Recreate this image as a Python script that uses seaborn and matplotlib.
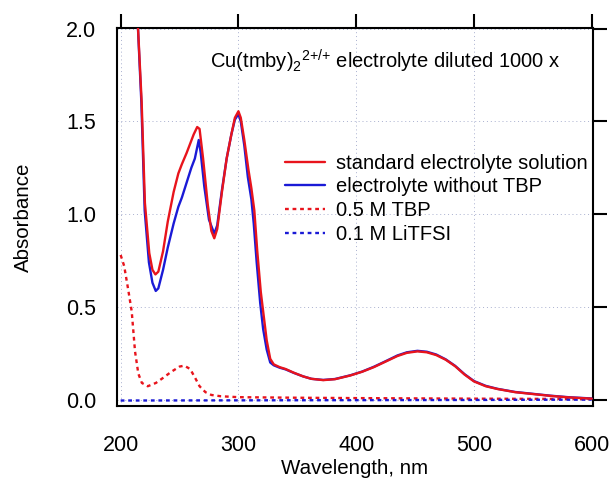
import numpy as np
import pandas as pd
import matplotlib
matplotlib.use("Agg")
import matplotlib.pyplot as plt
import seaborn as sns

# ---- data ----
std_nm = [214, 217.8, 220.6, 224.3, 227, 229.5, 232, 236, 240, 245, 249, 252, 256, 259, 262, 265,
          267, 270, 274, 277, 279.5, 282, 286, 290, 294, 297, 300, 302, 305, 308.5, 311, 313.5,
          316, 319, 321.5, 324, 327, 330, 335, 340, 347, 355, 362, 372, 382, 395, 405, 415, 425,
          435, 443, 452, 460, 468, 476, 484, 492, 500, 510, 520, 535, 550, 565, 580, 600]
std_abs = [2.1, 1.61, 1.06, 0.79, 0.70, 0.675, 0.69, 0.80, 0.96, 1.12, 1.22, 1.27, 1.33, 1.38, 1.43, 1.47,
           1.46, 1.30, 1.05, 0.91, 0.87, 0.92, 1.12, 1.30, 1.43, 1.52, 1.555, 1.52, 1.40, 1.24, 1.14, 1.02,
           0.80, 0.58, 0.45, 0.32, 0.22, 0.19, 0.175, 0.165, 0.145, 0.125, 0.112, 0.105, 0.11, 0.13, 0.15,
           0.175, 0.205, 0.235, 0.252, 0.26, 0.255, 0.24, 0.215, 0.18, 0.135, 0.098, 0.072, 0.057, 0.04,
           0.03, 0.02, 0.012, 0.005]

notbp_nm = [214, 217.6, 220.4, 224, 227, 229.8, 232, 236, 240, 245, 249, 252, 256, 260, 263, 266.3,
            268, 271, 275, 279.5, 282, 286, 290, 294, 297, 300, 302, 305, 308, 311, 313, 315.5,
            318.5, 321, 324, 327, 330, 335, 340, 347, 355, 362, 372, 382, 395, 405, 415, 425,
            435, 443, 452, 460, 468, 476, 484, 492, 500, 510, 520, 535, 550, 565, 580, 600]
notbp_abs = [2.1, 1.6, 1.02, 0.74, 0.63, 0.586, 0.60, 0.70, 0.82, 0.95, 1.04, 1.09, 1.17, 1.25, 1.30, 1.40,
             1.33, 1.15, 0.97, 0.895, 0.94, 1.13, 1.30, 1.43, 1.51, 1.54, 1.50, 1.37, 1.20, 1.08, 0.95, 0.74,
             0.52, 0.38, 0.27, 0.20, 0.185, 0.172, 0.163, 0.144, 0.125, 0.112, 0.106, 0.111, 0.131, 0.151,
             0.177, 0.207, 0.238, 0.255, 0.263, 0.258, 0.243, 0.217, 0.182, 0.137, 0.10, 0.074, 0.058,
             0.041, 0.031, 0.021, 0.013, 0.006]

tbp_nm = [200, 203, 206.5, 209.4, 212.2, 215, 218, 223, 230, 236, 243, 250, 254, 259, 263, 267,
          272, 277, 285, 300, 350, 400, 500, 600]
tbp_abs = [0.78, 0.72, 0.59, 0.475, 0.26, 0.14, 0.09, 0.072, 0.09, 0.117, 0.15, 0.178, 0.183, 0.165,
           0.12, 0.072, 0.04, 0.025, 0.018, 0.013, 0.01, 0.008, 0.005, 0.003]

litfsi_nm = [200, 300, 400, 500, 600]
litfsi_abs = [-0.005, -0.004, -0.003, -0.002, 0.0]

labels = ["standard electrolyte solution", "electrolyte without TBP", "0.5 M TBP", "0.1 M LiTFSI"]
x_ticks = [200, 300, 400, 500, 600]
y_ticks = [0.0, 0.5, 1.0, 1.5, 2.0]

RED = "#e8141c"
BLUE = "#1a1ad6"

sns.set_theme(style="white")
plt.rcParams['font.family'] = ['Liberation Sans', 'DejaVu Sans']
plt.rcParams['mathtext.fontset'] = 'custom'
plt.rcParams['mathtext.rm'] = 'Liberation Sans'
plt.rcParams['mathtext.it'] = 'Liberation Sans'
plt.rcParams['mathtext.default'] = 'regular'
plt.rcParams['text.color'] = 'black'
plt.rcParams['axes.labelcolor'] = 'black'

fig = plt.figure(figsize=(6.1, 4.8), dpi=100)
ax = fig.add_axes([0.192, 0.154, 0.780, 0.788])

dot = (0, (1.6, 1.6))
series = [
    (std_nm, std_abs, labels[0], RED, '-', 5),
    (notbp_nm, notbp_abs, labels[1], BLUE, '-', 4),
    (tbp_nm, tbp_abs, labels[2], RED, dot, 3),
    (litfsi_nm, litfsi_abs, labels[3], BLUE, dot, 3),
]
for xs, ys, lab, col, ls, z in series:
    df = pd.DataFrame({"nm": xs, "abs": ys})
    sns.lineplot(data=df, x="nm", y="abs", ax=ax, color=col, linewidth=1.7,
                 linestyle=ls, label=lab, sort=False, zorder=z)

ax.set_xlim(197, 601)
ax.set_ylim(-0.035, 2.005)
ax.set_xticks(x_ticks)
ax.set_yticks(y_ticks)
ax.set_yticklabels([f"{v:.1f}" for v in y_ticks])
ax.grid(True, color="#a9b0cf", linestyle=(0, (1, 3)), linewidth=0.7, zorder=0)
for s in ax.spines.values():
    s.set_visible(True)
    s.set_color("black")
    s.set_linewidth(1.5)
ax.tick_params(axis='both', which='major', direction='out', length=10, width=1.5,
               colors='black', labelsize=15.5, top=True, right=True,
               labeltop=False, labelright=False)
ax.tick_params(axis='x', pad=10.5)
ax.tick_params(axis='y', pad=5)
ax.set_xlabel("Wavelength, nm", fontsize=14.8, labelpad=2.5, color='black')
ax.set_ylabel("Absorbance", fontsize=14.8, labelpad=24, color='black')

ax.text(0.195, 0.91, r"Cu(tmby)$_2$$^{2{+}/{+}}$ electrolyte diluted 1000 x",
        transform=ax.transAxes, fontsize=14.5, va='center', ha='left', color='black')

leg = ax.legend(loc='upper left', bbox_to_anchor=(0.353, 0.667), frameon=False,
                fontsize=14.5, handlelength=2.0, handletextpad=0.55, labelspacing=0.23,
                borderpad=0, borderaxespad=0)
for t in leg.get_texts():
    t.set_color('black')

fig.savefig("out.png", dpi=100)
